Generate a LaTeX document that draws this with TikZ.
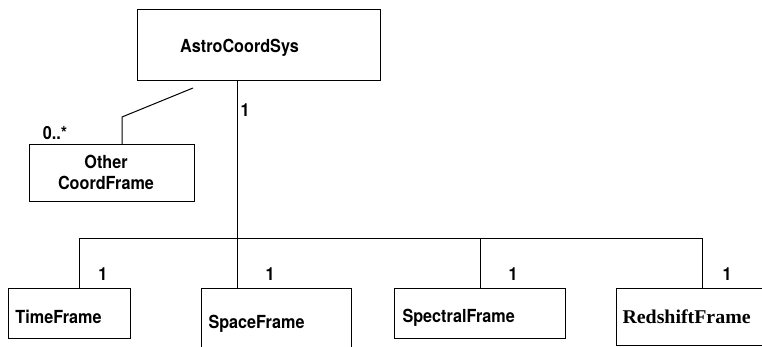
\documentclass[tikz,border=0pt]{standalone}
\usepackage{fontspec}
\setmainfont[FakeStretch=0.9]{TeX Gyre Heros}
\newfontfamily\rsfont[FakeStretch=1.02]{Liberation Serif}
\begin{document}
\begin{tikzpicture}[x=1pt,y=-1pt,line width=1pt,
  box/.style={draw,line width=1pt,inner sep=0pt},
  txt/.style={inner sep=0pt,font=\bfseries\fontsize{18}{21}\selectfont},
  mult/.style={inner sep=0pt,font=\bfseries\fontsize{18}{21}\selectfont}]
\useasboundingbox (0,0) rectangle (762,347);
% boxes
\node[box,minimum width=243pt,minimum height=71pt] (main) at (258.5,45.5) {};
\node[box,minimum width=165pt,minimum height=57pt] (other) at (111.5,173.5) {};
\node[box,minimum width=122pt,minimum height=50pt] (time) at (69,313) {};
\node[box,minimum width=150pt,minimum height=64pt] (space) at (276,320) {};
\node[box,minimum width=171pt,minimum height=50pt] (spectral) at (479.5,313) {};
\node[box,minimum width=149pt,minimum height=57pt] (redshift) at (690.5,316.5) {};
% texts
\node[txt] (tmain) at (239.5,48) {AstroCoordSys};
\node[txt,align=center] (tother) at (106,172.5) {Other\\CoordFrame};
\node[txt,anchor=west] (ttime) at (15,317) {TimeFrame};
\node[txt,anchor=west] (tspace) at (208,324) {SpaceFrame};
\node[txt,anchor=west] (tspectral) at (402,318) {SpectralFrame};
\node[inner sep=0pt,anchor=west,font=\rsfont\bfseries\fontsize{19.5}{22}\selectfont] (tredshift) at (622,317) {RedshiftFrame};
% connector coordinates
\coordinate (j) at (237,238);
\coordinate (jt) at (79,238);
\coordinate (jsp) at (480,238);
\coordinate (jr) at (702,238);
\coordinate (o1) at (193,88);
\coordinate (o2) at (122,117);
% connectors
\draw (main.south -| j) -- (j);
\draw (jt) -- (jr);
\draw (jt) -- (jt |- time.north);
\draw (j) -- (j |- space.north);
\draw (jsp) -- (jsp |- spectral.north);
\draw (jr) -- (jr |- redshift.north);
\draw (o1) -- (o2) -- (o2 |- other.north);
% multiplicities
\node[mult] (m0) at (55,133) {0..*};
\node[mult] (m1) at (245,110) {1};
\node[mult] (m2) at (103,274) {1};
\node[mult] (m3) at (270,274) {1};
\node[mult] (m4) at (513,274) {1};
\node[mult] (m5) at (727,274) {1};
\end{tikzpicture}
\end{document}
